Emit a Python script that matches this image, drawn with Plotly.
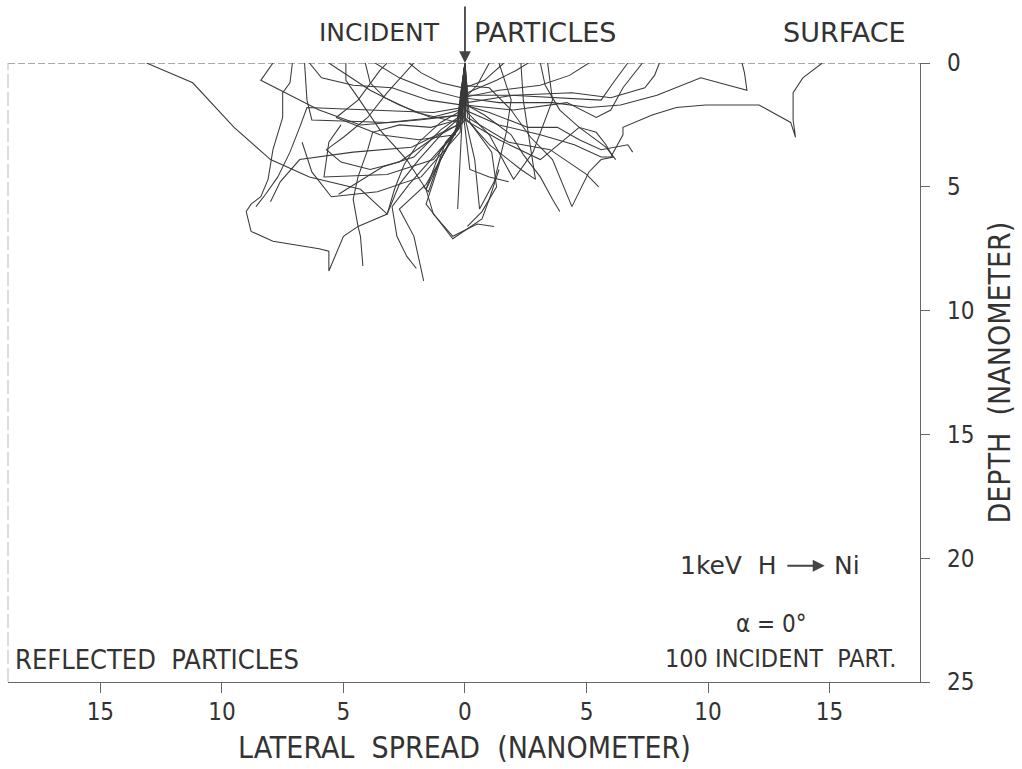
import plotly.graph_objects as go

# Monte Carlo trajectories of 1 keV H in Ni: (lateral position nm, depth nm)
track_01 = [(0, 0), (-0.1, 1.9), (-1.0, 2.4), (-1.9, 3.2), (-2.5, 4.1), (-2.9, 5.1), (-3.2, 6.1), (-4.3, 5.1), (-6.4, 4.6), (-8.0, 3.9), (-9.5, 2.6), (-11.2, 0.8), (-13.1, 0)]
track_02 = [(0, 0), (-0.2, 2.2), (-0.9, 2.8), (-1.9, 3.9), (-2.7, 4.9), (-3.2, 6.1), (-4.4, 6.6), (-5.0, 7.0), (-5.6, 8.4), (-5.6, 7.6), (-6.0, 7.5), (-7.9, 7.2), (-8.8, 6.8), (-9.0, 6.0), (-8.8, 5.7), (-8.4, 5.4), (-8.1, 4.7), (-7.9, 3.5), (-7.5, 2.2), (-7.5, 1.2), (-7.2, 0.8), (-7.1, 0)]
track_03 = [(0, 0), (-0.1, 1.8), (-1.3, 2.0), (-3.9, 1.9), (-6.5, 1.8), (-6.8, 2.6), (-7.2, 3.6), (-7.7, 4.6), (-8.2, 5.3), (-8.6, 5.8)]
track_04 = [(0, 0), (-0.2, 2.1), (-3.2, 2.4), (-6.3, 2.3), (-6.5, 1.5), (-6.6, 0)]
track_05 = [(0, 0), (-0.2, 1.4), (-1.4, 1.1), (-2.7, 0.6), (-3.7, 0)]
track_06 = [(0, 0), (-0.3, 2.3), (-1.4, 2.6), (-2.7, 2.5), (-3.8, 2.8), (-4.0, 3.5), (-4.4, 4.6), (-4.6, 5.5), (-4.4, 6.6), (-4.3, 7.0), (-4.2, 8.2)]
track_07 = [(0, 0), (-0.3, 2.5), (-1.4, 3.1), (-2.7, 4.0), (-3.9, 4.3), (-5.1, 4.0), (-5.7, 3.5), (-5.0, 3.0), (-4.0, 2.2), (-3.2, 1.2), (-2.1, 0)]
track_08 = [(0, 0), (-0.2, 2.3), (-0.8, 3.5), (-1.6, 5.1), (-2.4, 3.9), (-3.5, 2.7), (-4.4, 1.4), (-4.9, 0.7), (-4.9, 0)]
track_09 = [(0, 0), (-0.2, 2.5), (-1.0, 3.9), (-1.6, 4.9), (-2.7, 5.9), (-2.1, 7.0), (-1.7, 8.8)]
track_10 = [(0, 0), (-0.3, 2.7), (-1.4, 3.9), (-2.3, 4.9), (-3.0, 5.8), (-2.8, 7.0), (-2.4, 7.8), (-2.0, 8.3)]
track_11 = [(0, 0), (-0.1, 2.3), (-0.2, 3.9), (-0.3, 5.9)]
track_12 = [(0, 0), (-0.2, 2.5), (-1.0, 3.5), (-1.6, 5.1), (-1.3, 6.1), (-0.5, 7.0), (0.5, 6.5), (1.2, 6.6)]
track_13 = [(0, 0), (-0.4, 2.9), (-1.9, 3.1), (-3.5, 2.9), (-5.3, 2.2), (-4.4, 1.5), (-3.5, 0.3), (-3.2, 0)]
track_14 = [(0, 0), (-0.1, 2.1), (-1.9, 2.3), (-4.3, 2.5), (-6.0, 1.9), (-7.2, 1.3), (-8.4, 0.7), (-7.9, 0)]
track_15 = [(0, 0), (-0.2, 1.9), (-1.4, 2.2), (-2.7, 1.7), (-3.9, 1.1), (-4.5, 0.7), (-5.6, 0)]
track_16 = [(0, 0), (0.0, 1.9), (1.4, 2.5), (3.1, 2.9), (4.5, 3.3), (5.6, 3.8), (6.0, 3.8), (6.5, 2.9), (6.5, 2.6), (7.7, 2.1), (8.7, 1.8), (9.9, 1.7), (12.1, 1.7), (13.4, 2.4), (13.6, 3.0), (13.5, 2.3), (13.5, 1.2), (13.9, 0.6), (14.7, 0)]
track_17 = [(0, 0), (-0.1, 1.4), (1.4, 1.6), (3.6, 1.6), (5.1, 1.8), (6.4, 1.7), (7.9, 1.3), (9.7, 0.6), (11.6, 1.1), (11.5, 0.4), (11.4, 0)]
track_18 = [(0, 0), (0, 1.7), (2.0, 1.9), (4.2, 1.6), (5.4, 2.2), (6.0, 1.9), (6.5, 1.0), (7.3, 0)]
track_19 = [(0, 0), (0, 1.7), (1.0, 2.0), (2.6, 2.6), (3.8, 2.6), (4.7, 3.1), (5.6, 3.5), (6.7, 3.3), (6.9, 3.6)]
track_20 = [(0, 0), (-0.1, 0.9), (1.0, 1.0), (1.9, 1.9), (2.7, 3.0), (3.6, 3.9), (4.4, 5.8), (5.1, 4.4), (5.6, 3.9), (6.1, 3.8), (5.8, 3.3), (5.4, 2.8), (4.7, 2.6), (3.9, 1.9), (3.3, 0.9), (3.1, 0)]
track_21 = [(0, 0), (-0.1, 1.9), (0, 2.6), (0.2, 4.3), (1.0, 4.6), (1.8, 4.8)]
track_22 = [(0, 0), (-0.1, 1.4), (1.4, 1.1), (3.1, 0.9), (4.3, 0.5), (5.1, 0)]
track_23 = [(0, 0), (-0.1, 1.5), (0.5, 0.9), (1.0, 0)]
track_24 = [(0, 0), (0, 2.2), (1.0, 3.3), (2.3, 4.3), (2.9, 4.7), (2.7, 3.5), (2.6, 2.8), (2.4, 1.5), (2.3, 0)]
track_25 = [(0, 0), (0, 2.2), (0.4, 3.9), (0.6, 5.9), (1.2, 4.8), (1.7, 2.8), (1.9, 1.5), (1.4, 0)]
track_26 = [(0, 0), (0.1, 2.0), (1.0, 2.9), (2.0, 4.7), (2.8, 3.6), (3.6, 1.5), (3.4, 0)]
track_27 = [(0, 0), (0, 2.3), (1.4, 3.1), (3.1, 3.9), (4.7, 2.6), (5.8, 3.4), (6.2, 3.9)]
track_28 = [(0, 0), (-0.1, 1.3), (1.9, 1.3), (3.9, 1.4), (5.6, 1.5), (6.1, 0.8), (6.7, 0)]
track_29 = [(0, 0), (-0.1, 2.2), (-1.0, 3.9), (-1.6, 5.7), (-0.5, 7.1), (0.7, 6.3), (1.0, 5.5), (1.4, 4.3)]
track_30 = [(0, 0), (0, 1.0), (0.8, 0.7), (1.6, 0)]
track_31 = [(0, 0), (-0.2, 2.6), (-1.3, 3.9), (-3.2, 4.5), (-5.8, 4.6), (-5.6, 3.2), (-5.1, 2.5)]
track_32 = [(0, 0), (-0.1, 1.7), (-1.5, 1.5), (-3.0, 1.0), (-4.6, 0.9), (-5.9, 0.6), (-6.4, 0)]
track_33 = [(0, 0), (-0.3, 2.4), (-2.0, 2.0), (-3.3, 1.4), (-3.9, 0.8), (-4.1, 0)]
track_34 = [(0, 0), (-0.2, 2.8), (-1.8, 4.6), (-3.6, 5.2), (-5.5, 5.4), (-6.3, 4.4), (-6.7, 3.2)]
track_35 = [(0, 0), (-0.1, 2.4), (-2.2, 3.4), (-4.6, 3.6), (-6.8, 3.9), (-7.6, 4.8), (-8.0, 5.6)]
track_36 = [(0, 0), (0.1, 2.2), (1.8, 3.2), (3.5, 3.5), (5.0, 4.5), (5.5, 5.0)]
track_37 = [(0, 0), (0.1, 1.6), (2.0, 1.3), (4.4, 1.2), (6.0, 1.4), (7.4, 1.0), (7.8, 0.5), (8.0, 0)]
track_38 = [(0, 0), (0.2, 2.4), (1.1, 3.6), (1.3, 5.0), (0.7, 6.0), (0.1, 6.6)]
track_39 = [(0, 0), (0, 2.0), (-1.0, 2.7), (-2.1, 3.8), (-3.4, 4.2), (-5.2, 5.3)]
track_40 = [(0, 0), (-0.1, 1.6), (0.8, 2.1), (1.9, 2.9), (2.4, 3.7), (3.1, 4.6), (3.6, 5.5), (3.9, 6.0)]
track_41 = [(0, 0), (0.1, 1.2), (1.3, 0.7), (2.1, 0.3), (2.6, 0)]
track_42 = [(0, 0), (-0.1, 1.0), (-1.0, 0.8), (-1.8, 0.4), (-2.3, 0)]
track_43 = [(0, 0), (0, 2.3), (-0.8, 3.2), (-1.2, 4.3), (-1.5, 5.2), (-1.7, 5.0)]

tracks = [track_01, track_02, track_03, track_04, track_05, track_06, track_07, track_08,
          track_09, track_10, track_11, track_12, track_13, track_14, track_15, track_16,
          track_17, track_18, track_19, track_20, track_21, track_22, track_23, track_24,
          track_25, track_26, track_27, track_28, track_29, track_30, track_31, track_32,
          track_33, track_34, track_35, track_36, track_37, track_38, track_39, track_40,
          track_41, track_42, track_43]

x_ticks = [-15, -10, -5, 0, 5, 10, 15]
x_tick_text = ["15", "10", "5", "0", "5", "10", "15"]
depth_ticks = [0, 5, 10, 15, 20, 25]

X_RANGE = [-18.8, 18.72]
INK = "#3a3a3a"
AXIS = "#666666"
COND = "DejaVu Sans Condensed, Liberation Sans Narrow, Roboto, sans-serif"
WIDE = "DejaVu Sans, sans-serif"
TXT = "#333333"

fig = go.Figure()
for tr in tracks:
    fig.add_trace(go.Scatter(
        x=[p[0] for p in tr], y=[p[1] for p in tr],
        mode="lines", line=dict(color=INK, width=1.05),
        showlegend=False, hoverinfo="skip",
    ))

# surface and left frame edge
fig.add_shape(type="line", xref="x", yref="y", x0=X_RANGE[0], x1=X_RANGE[1], y0=0, y1=0,
              line=dict(color="#555555", width=1, dash="7px,3px"))
fig.add_shape(type="line", xref="paper", yref="paper", x0=0, x1=0, y0=0, y1=1,
              line=dict(color="#bbbbbb", width=1, dash="14px,4px"))

ann = []
# incident beam arrow
ann.append(dict(x=0, y=0, xref="x", yref="y", ax=0, ay=-58, showarrow=True,
                arrowhead=2, arrowsize=1.3, arrowwidth=1.8, arrowcolor="#444444",
                text="", standoff=0))
ann.append(dict(x=-0.95, y=1.0485, xref="x", yref="paper", text="INCIDENT", showarrow=False,
                xanchor="right", yanchor="middle", font=dict(family=WIDE, size=25, color=TXT)))
ann.append(dict(x=0.29, y=1.0485, xref="x", yref="paper", text="PARTICLES", showarrow=False,
                xanchor="left", yanchor="middle", font=dict(family=WIDE, size=27, color=TXT)))
ann.append(dict(x=15.6, y=1.05, xref="x", yref="paper", text="SURFACE", showarrow=False,
                xanchor="center", yanchor="middle", font=dict(family=WIDE, size=27, color=TXT)))
# reaction label
ann.append(dict(x=12.9, y=20.3, xref="x", yref="y", text="1keV  H", showarrow=False,
                xanchor="right", yanchor="middle", font=dict(family=WIDE, size=25, color=TXT)))
ann.append(dict(x=14.8, y=20.3, xref="x", yref="y", ax=13.2, ay=20.3, axref="x", ayref="y",
                showarrow=True, arrowhead=2, arrowsize=1.2, arrowwidth=2, arrowcolor="#444444",
                text="", standoff=0))
ann.append(dict(x=15.1, y=20.3, xref="x", yref="y", text="Ni", showarrow=False,
                xanchor="left", yanchor="middle", font=dict(family=WIDE, size=25, color=TXT)))
ann.append(dict(x=12.6, y=22.65, xref="x", yref="y", text="α = 0°", showarrow=False,
                xanchor="center", yanchor="middle", font=dict(family=COND, size=24, color=TXT)))
ann.append(dict(x=17.8, y=24.07, xref="x", yref="y", text="100 INCIDENT  PART.", showarrow=False,
                xanchor="right", yanchor="middle", font=dict(family=COND, size=25, color=TXT)))
ann.append(dict(x=-18.6, y=24.1, xref="x", yref="y", text="REFLECTED  PARTICLES", showarrow=False,
                xanchor="left", yanchor="middle", font=dict(family=COND, size=27, color=TXT)))
# axis titles
ann.append(dict(x=0.5, y=-0.1066, xref="paper", yref="paper", text="LATERAL  SPREAD  (NANOMETER)",
                showarrow=False, xanchor="center", yanchor="middle",
                font=dict(family=COND, size=30, color=TXT)))
ann.append(dict(x=1.0877, y=0.5, xref="paper", yref="paper", text="DEPTH  (NANOMETER)",
                showarrow=False, xanchor="center", yanchor="middle", textangle=-90,
                font=dict(family=COND, size=30, color=TXT)))

fig.update_layout(
    width=1022, height=769,
    margin=dict(l=8, r=102, t=63, b=87),
    paper_bgcolor="white", plot_bgcolor="white",
    annotations=ann,
    xaxis=dict(range=X_RANGE, tickvals=x_ticks, ticktext=x_tick_text,
               ticks="outside", ticklen=10, tickwidth=1, tickcolor=AXIS,
               showline=True, linecolor=AXIS, linewidth=1.2,
               showgrid=False, zeroline=False, ticklabelstandoff=-2,
               tickfont=dict(family=COND, size=24, color=TXT)),
    yaxis=dict(range=[25, 0], tickvals=depth_ticks, side="right",
               ticks="outside", ticklen=9, tickwidth=1, tickcolor=AXIS,
               showline=True, linecolor=AXIS, linewidth=1.2,
               showgrid=False, zeroline=False, ticklabelstandoff=12,
               tickfont=dict(family=COND, size=24, color=TXT)),
)

fig.write_html("out.html")
